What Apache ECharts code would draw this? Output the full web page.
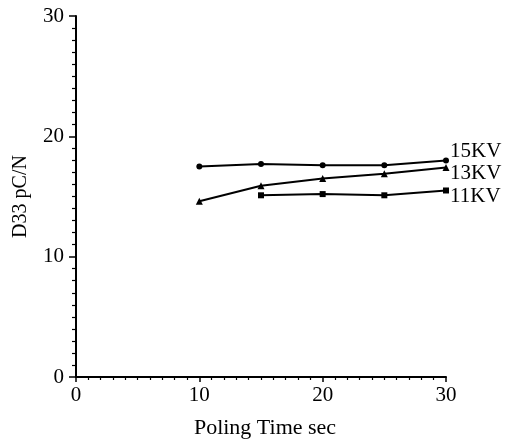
<!DOCTYPE html>
<html><head><meta charset="utf-8">
<script src="https://cdn.jsdelivr.net/npm/echarts@6/dist/echarts.min.js"></script>
<style>html,body{margin:0;padding:0;background:#fff}#c{width:514px;height:439px}</style>
</head><body><div id="c"></div>
<script>
const times = [10, 15, 20, 25, 30];
const times11 = [15, 20, 25, 30];
const kv15 = [17.5, 17.7, 17.6, 17.6, 18.0];
const kv13 = [14.6, 15.9, 16.5, 16.9, 17.4];
const kv11 = [15.1, 15.2, 15.1, 15.5];
const seriesNames = ['15KV', '13KV', '11KV'];
const yTicks = [0, 10, 20, 30];
const xTicks = [0, 10, 20, 30];

const font = '"Liberation Serif", "DejaVu Serif", serif';
const pair = (xs, ys) => xs.map((x, i) => [x, ys[i]]);

function mkSeries(name, data, symbol, size, offset) {
  return {
    name, type: 'line', data, symbol, symbolSize: size,
    lineStyle: {color: '#000', width: 2},
    itemStyle: {color: '#000'},
    endLabel: {show: true, formatter: name, color: '#000', fontFamily: font, fontSize: 21, offset: offset, distance: 4},
    animation: false
  };
}

const chart = echarts.init(document.getElementById('c'));
chart.setOption({
  backgroundColor: '#fff',
  animation: false,
  grid: {left: 76, right: 68, top: 16, bottom: 62, containLabel: false, outerBoundsMode: 'none'},
  xAxis: {
    type: 'value', min: 0, max: 30, interval: 10,
    name: 'Poling Time sec', nameLocation: 'middle', nameGap: 40,
    nameTextStyle: {fontFamily: font, fontSize: 22, color: '#000', padding: [0, 0, 0, 8]},
    axisLine: {show: true, lineStyle: {color: '#000', width: 2}},
    axisTick: {show: true, length: 5, lineStyle: {color: '#000', width: 1.5}},
    minorTick: {show: true, splitNumber: 10, length: 3, lineStyle: {color: '#000', width: 1.2}},
    splitLine: {show: false},
    axisLabel: {fontFamily: font, fontSize: 21, color: '#000', margin: 8,
      formatter: v => xTicks.includes(v) ? String(v) : ''}
  },
  yAxis: {
    type: 'value', min: 0, max: 30, interval: 10,
    name: 'D33 pC/N', nameLocation: 'middle', nameGap: 45,
    nameTextStyle: {fontFamily: font, fontSize: 20, color: '#000'},
    axisLine: {show: true, lineStyle: {color: '#000', width: 2}},
    axisTick: {show: true, length: 7, lineStyle: {color: '#000', width: 1.5}},
    minorTick: {show: true, splitNumber: 10, length: 4, lineStyle: {color: '#000', width: 1.2}},
    splitLine: {show: false},
    axisLabel: {fontFamily: font, fontSize: 21, color: '#000', margin: 12,
      formatter: v => yTicks.includes(v) ? String(v) : ''}
  },
  series: [
    mkSeries(seriesNames[0], pair(times, kv15), 'circle', 6, [0, -9]),
    mkSeries(seriesNames[1], pair(times, kv13), 'triangle', 7, [0, 6]),
    mkSeries(seriesNames[2], pair(times11, kv11), 'rect', 6, [0, 6])
  ]
});
</script></body></html>
